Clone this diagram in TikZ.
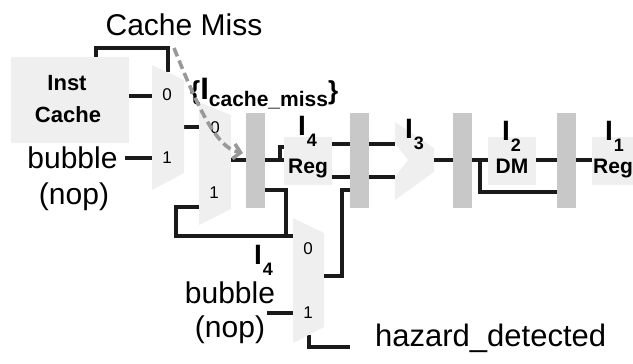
\documentclass[tikz,border=0pt]{standalone}
\usepackage{fontspec}
\setmainfont{Liberation Sans}
\usetikzlibrary{arrows.meta}
\definecolor{lightfill}{HTML}{EFEFEF}
\definecolor{regfill}{HTML}{C8C8C8}
\definecolor{wire}{HTML}{1A1A1A}
\definecolor{dashgray}{HTML}{999999}
\newcommand{\fsz}[1]{\fontsize{#1}{#1}\selectfont}
\newcommand{\Ilab}[1]{\bfseries\fsz{28}I\hspace{1pt}\raisebox{-11pt}{\fsz{18}#1}}
\begin{document}
\begin{tikzpicture}[x=1pt,y=-1pt,
  wireline/.style={draw=wire,line width=3.2pt},
  lightbox/.style={fill=lightfill,draw=none,inner sep=0pt,minimum width=48,minimum height=48},
  pipereg/.style={fill=regfill,draw=none,inner sep=0pt,minimum width=19,minimum height=95},
  shapefill/.style={fill=lightfill,draw=none},
  txt/.style={inner sep=0pt,anchor=base},
  muxlab/.style={inner sep=0pt,anchor=base,font=\fsz{17}},
  dasharrow/.style={draw=dashgray,line width=3.6pt,dash pattern=on 9pt off 4.5pt,
     -{Straight Barb[length=7pt,width=15pt,line width=3.6pt]}}
]
\useasboundingbox (0,0) rectangle (633,364);

% ---------- coordinates of ports ----------
\coordinate (m1in0) at (152,96);
\coordinate (m1in1) at (152,158);
\coordinate (m1sel) at (168,72);
\coordinate (m1out) at (184,127);
\coordinate (m2in0) at (199,127);
\coordinate (m2in1) at (199,207);
\coordinate (m2out) at (231,160);
\coordinate (m3in0) at (293,236);
\coordinate (m3in1) at (293,313);
\coordinate (m3out) at (324,276);
\coordinate (m3sel) at (309,335);
\coordinate (aluin0) at (395,144);
\coordinate (aluin1) at (395,177);
\coordinate (aluout) at (434,160);
\coordinate (bub1) at (125,158);
\coordinate (bub2) at (267,313);
\coordinate (hz) at (350,347);
\coordinate (cmtop) at (96,48);

% ---------- wires (under the shapes) ----------
\draw[wireline] (96,60) -- (cmtop) -| (m1sel);
\draw[wireline] (bub1) -- (m1in1);
\draw[wireline] (m1out) -- (m2in0);
\draw[wireline] (bub2) -- (m3in1);
\draw[wireline] (m3sel) |- (hz);

% ---------- boxes ----------
\node[lightbox,minimum width=118,minimum height=86] (ic) at (70,100) {};
\node[lightbox] (regA) at (308,161) {};
\node[lightbox] (dm) at (512,161) {};
\node[lightbox] (regB) at (616,161) {};
\node[pipereg] (p1) at (255.5,160.5) {};
\node[pipereg] (p2) at (359.5,160) {};
\node[pipereg] (p3) at (462.5,160) {};
\node[pipereg] (p4) at (566.5,160) {};

% ---------- muxes and ALU ----------
\fill[shapefill] (152,65) -- (184,80) -- (184,173) -- (152,190) -- cycle;
\fill[shapefill] (199,102) -- (231,115) -- (231,209) -- (199,225) -- cycle;
\fill[shapefill] (293,218) -- (324,233) -- (324,327) -- (293,343) -- cycle;
\fill[shapefill] (395,122) -- (434,148) -- (434,172) -- (395,200) -- (395,177)
   -- (408,160) -- (395,143) -- cycle;

% ---------- wires between nodes ----------
\draw[wireline] (ic.east |- m1in0) -- (m1in0);
\draw[wireline] (m2out) -- (p1.west |- m2out);
\draw[wireline] (p1.east |- m2out) -- (regA.west |- m2out);
\draw[wireline] (280,160) |- (regA.west |- 0,147);
\draw[wireline] (p1.east |- 0,190) -| (286,236) -- (m3in0);
\draw[wireline] (286,236) -| (176,207) -- (m2in1);
\draw[wireline] (regA.east |- aluin0) -- (p2.west |- aluin0);
\draw[wireline] (regA.east |- aluin1) -- (p2.west |- aluin1);
\draw[wireline] (p2.east |- aluin0) -- (aluin0);
\draw[wireline] (p2.east |- aluin1) -- (aluin1);
\draw[wireline] (m3out) -| (342,190) -- (p2.west |- 0,190);
\draw[wireline] (aluout) -- (p3.west |- aluout);
\draw[wireline] (p3.east |- aluout) -- (dm.west |- aluout);
\draw[wireline] (480,160) |- (p4.west |- 0,192);
\draw[wireline] (dm.east |- 0,160) -- (p4.west |- 0,160);
\draw[wireline] (p4.east |- 0,160) -- (regB.west |- 0,160);

% ---------- texts ----------
\node[txt,font=\fsz{30}] (cachemiss) at (184,35) {Cache Miss};
\node[txt,font=\bfseries\fsz{22}] (icA) at (67,90) {Inst};
\node[txt,font=\bfseries\fsz{22}] (icB) at (68,122) {Cache};
\node[txt,font=\fsz{30}] (bubA) at (72.5,168) {bubble};
\node[txt,font=\fsz{30}] (nopA) at (74,204) {(nop)};
\node[txt,font=\fsz{30}] (bubB) at (230,303) {bubble};
\node[txt,font=\fsz{30}] (nopB) at (230,337) {(nop)};
\node[txt,anchor=base west,font=\fsz{31}] (hztxt) at (375,346) {hazard\_detected};
\node[txt,font=\bfseries\fsz{21}] (regAt) at (308,173) {Reg};
\node[txt,font=\bfseries\fsz{21}] (dmt) at (512,173) {DM};
\node[txt,font=\bfseries\fsz{21}] (regBt) at (613,173) {Reg};

\node[muxlab] (l10) at (167,100) {0};
\node[muxlab] (l11) at (167,163) {1};
\node[muxlab] (l20) at (215,133) {0};
\node[muxlab] (l21) at (214,198) {1};
\node[muxlab] (l30) at (308,254) {0};
\node[muxlab] (l31) at (308,318) {1};

\node[txt,anchor=base west] (i4a) at (298,135) {\Ilab{4}};
\node[txt,anchor=base west] (i3) at (405,138) {\Ilab{3}};
\node[txt,anchor=base west] (i2) at (502,140) {\Ilab{2}};
\node[txt,anchor=base west] (i1) at (605,140) {\Ilab{1}};
\node[txt,anchor=base west] (i4b) at (254,264) {\Ilab{4}};

\node[txt,anchor=base west] (cml) at (190,99)
  {\bfseries\fsz{26}\{\fsz{31}I\raisebox{-7pt}{\fsz{21}cache\_miss}\fsz{26}\}};

% ---------- dashed arrow ----------
\draw[dasharrow] (174,48) .. controls (195,100) and (215,148) .. (243,153);
\end{tikzpicture}
\end{document}
